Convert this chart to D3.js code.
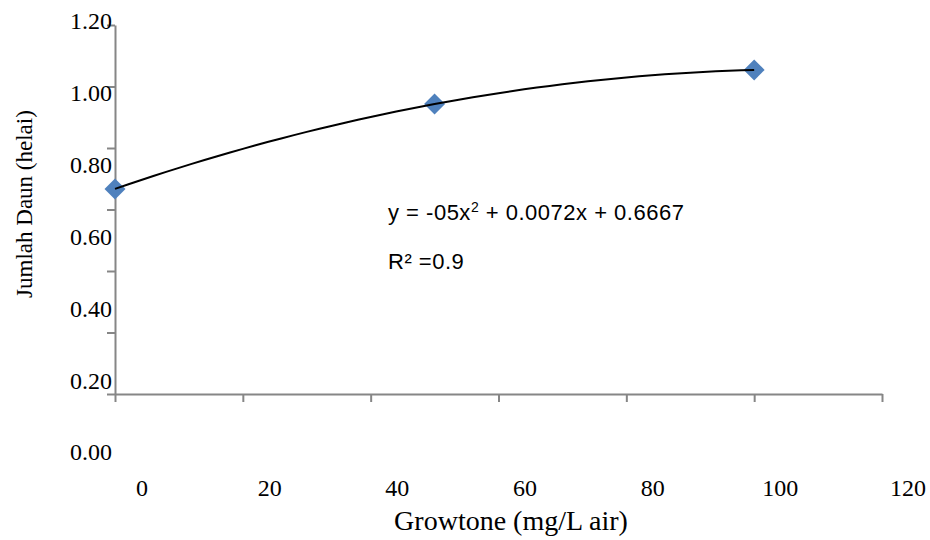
<!DOCTYPE html>
<html>
<head>
<meta charset="utf-8">
<script src="https://cdn.jsdelivr.net/npm/d3@7"></script>
<style>
  body { margin: 0; background: #fff; }
  svg text { fill: #000; }
  .serif { font-family: "Liberation Serif", "Times New Roman", serif; }
  .sans { font-family: "Liberation Sans", Arial, sans-serif; }
</style>
</head>
<body>
<div id="chart"></div>
<script>
// data
var dosis = [0, 50, 100];             // Growtone (mg/L air)
var daun = [0.667, 0.943, 1.054];     // Jumlah Daun (helai)
var xTicks = [0, 20, 40, 60, 80, 100, 120];
var yTicks = [0, 0.2, 0.4, 0.6, 0.8, 1.0, 1.2];
var eqText = "y = -05x";
var eqRest = " + 0.0072x + 0.6667";
var r2Text = "R² =0.9";

var w = 930, h = 540;

var svg = d3.select("#chart").append("svg")
  .attr("width", w).attr("height", h);

// plot scales
var x = d3.scaleLinear().domain([0, 120]).range([115, 882]);
var y = d3.scaleLinear().domain([0, 1.2]).range([394, 25]);

// the labels in the original sit off the ticks, so they get their own scales
var xLab = d3.scaleLinear().domain([0, 120]).range([142, 908]);
var yLab = d3.scaleLinear().domain([0, 1.2]).range([452, 21]);

var axisColor = "#868686";

var gy = svg.append("g")
  .attr("transform", "translate(" + x(0) + ",0)")
  .call(d3.axisLeft(y).tickValues(yTicks).tickSize(8).tickSizeOuter(0).tickFormat(""));
var gx = svg.append("g")
  .attr("transform", "translate(0," + y(0) + ")")
  .call(d3.axisBottom(x).tickValues(xTicks).tickSize(8).tickSizeOuter(0).tickFormat(""));
svg.selectAll(".domain, .tick line")
  .attr("stroke", axisColor)
  .attr("stroke-width", 2);

// tick labels
svg.append("g").selectAll("text")
  .data(yTicks)
  .enter().append("text")
  .attr("class", "serif")
  .attr("x", 112)
  .attr("y", function(d) { return yLab(d); })
  .attr("dy", "0.35em")
  .attr("text-anchor", "end")
  .style("font-size", "24px")
  .text(function(d) { return d3.format(".2f")(d); });

svg.append("g").selectAll("text")
  .data(xTicks)
  .enter().append("text")
  .attr("class", "serif")
  .attr("x", function(d) { return xLab(d); })
  .attr("y", 488)
  .attr("dy", "0.35em")
  .attr("text-anchor", "middle")
  .style("font-size", "24px")
  .text(function(d) { return d; });

// axis titles
svg.append("text")
  .attr("class", "serif")
  .attr("x", 511).attr("y", 530)
  .attr("text-anchor", "middle")
  .style("font-size", "28px")
  .text("Growtone (mg/L air)");

svg.append("text")
  .attr("class", "serif")
  .attr("transform", "translate(32,204) rotate(-90)")
  .attr("text-anchor", "middle")
  .style("font-size", "23px")
  .text("Jumlah Daun (helai)");

// markers
var pts = dosis.map(function(d, i) { return [d, daun[i]]; });
svg.append("g").selectAll("path")
  .data(pts)
  .enter().append("path")
  .attr("d", d3.symbol(d3.symbolSquare, 220))
  .attr("transform", function(d) { return "translate(" + x(d[0]) + "," + y(d[1]) + ") rotate(45)"; })
  .attr("fill", "#4f81bd");

// polynomial trendline (order 2) through the points
var x0 = dosis[0], x1 = dosis[1], x2 = dosis[2];
var y0 = daun[0], y1 = daun[1], y2 = daun[2];
function trend(t) {
  return y0 * (t - x1) * (t - x2) / ((x0 - x1) * (x0 - x2)) +
         y1 * (t - x0) * (t - x2) / ((x1 - x0) * (x1 - x2)) +
         y2 * (t - x0) * (t - x1) / ((x2 - x0) * (x2 - x1));
}
var curve = d3.range(0, 101, 2).map(function(t) { return [t, trend(t)]; });
svg.append("path")
  .datum(curve)
  .attr("fill", "none")
  .attr("stroke", "#000")
  .attr("stroke-width", 2)
  .attr("d", d3.line().x(function(d) { return x(d[0]); }).y(function(d) { return y(d[1]); }));

// equation
var eq = svg.append("text")
  .attr("class", "sans")
  .attr("x", 388).attr("y", 220)
  .style("font-size", "22px")
  .style("letter-spacing", "0.5px");
eq.append("tspan").text(eqText);
eq.append("tspan").attr("dy", -8).style("font-size", "14px").text("2");
eq.append("tspan").attr("dy", 8).text(eqRest);

svg.append("text")
  .attr("class", "sans")
  .attr("x", 388).attr("y", 269)
  .style("font-size", "22px")
  .style("letter-spacing", "0.5px")
  .text(r2Text);
</script>
</body>
</html>
